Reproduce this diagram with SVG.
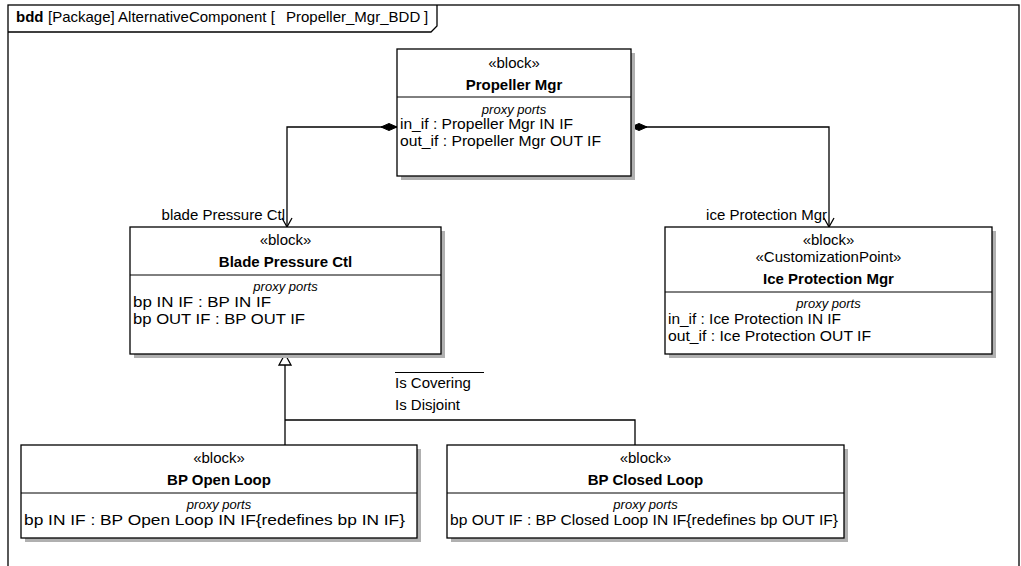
<svg xmlns="http://www.w3.org/2000/svg" width="1021" height="566" viewBox="0 0 1021 566">
  <style>
    text { font-family: "Liberation Sans", Arial, sans-serif; font-size: 15px; fill: #000; }
    .c { text-anchor: middle; }
    .b { font-weight: bold; }
    .pp { font-style: italic; font-size: 13px; text-anchor: middle; }
    .box { fill: #fff; stroke: #000; stroke-width: 1.3; }
    .shadow { fill: #b0b0b0; }
    .div { stroke: #000; stroke-width: 1; }
    .edge { fill: none; stroke: #000; stroke-width: 1.3; }
  </style>
  <defs>
    <marker id="diamond" markerUnits="userSpaceOnUse" markerWidth="18" markerHeight="8" refX="0" refY="0" orient="auto" overflow="visible">
      <path d="M0,0 L8,-3.5 L16,0 L8,3.5 Z" fill="#000" stroke="#000" stroke-width="1"/>
    </marker>
    <marker id="open" markerUnits="userSpaceOnUse" markerWidth="12" markerHeight="12" refX="0" refY="0" orient="auto" overflow="visible">
      <path d="M-9,-5 L0,0 L-9,5" fill="none" stroke="#000" stroke-width="1.3"/>
    </marker>
    <marker id="gen" markerUnits="userSpaceOnUse" markerWidth="14" markerHeight="14" refX="0" refY="0" orient="auto" overflow="visible">
      <path d="M0,0 L-11,-6 L-11,6 Z" fill="#fff" stroke="#000" stroke-width="1.3"/>
    </marker>
  </defs>

  <!-- diagram frame -->
  <g id="frame">
    <rect x="8" y="5" width="1011" height="580" fill="#fff" stroke="#000" stroke-width="1.3"/>
    <path d="M8,32 H431 L437,26 V5" fill="none" stroke="#000" stroke-width="1.3"/>
    <text x="16" y="22"><tspan class="b">bdd</tspan><tspan x="48">[Package] AlternativeComponent [</tspan><tspan x="286">Propeller_Mgr_BDD</tspan><tspan x="424">]</tspan></text>
  </g>

  <!-- connectors -->
  <g id="connectors">
    <path class="edge" d="M397,127 H287 V227" marker-start="url(#diamond)" marker-end="url(#open)"/>
    <path class="edge" d="M631,127 H829 V227" marker-start="url(#diamond)" marker-end="url(#open)"/>
    <path class="edge" d="M285,445 V354" marker-end="url(#gen)"/>
    <path class="edge" d="M285,420 H635 V445"/>
    <text x="285" y="220" text-anchor="end">blade Pressure Ctl</text>
    <text x="827" y="220" text-anchor="end">ice Protection Mgr</text>
    <line x1="395" y1="372.5" x2="484" y2="372.5" stroke="#000" stroke-width="1"/>
    <text x="395" y="388">Is Covering</text>
    <text x="395" y="410">Is Disjoint</text>
  </g>

  <!-- Propeller Mgr -->
  <g id="propeller-mgr">
    <rect class="shadow" x="401" y="53" width="234" height="127"/>
    <rect class="box" x="397" y="49" width="234" height="127"/>
    <line class="div" x1="397" y1="97" x2="631" y2="97"/>
    <text class="c" x="514" y="68">«block»</text>
    <text class="c b" x="514" y="90">Propeller Mgr</text>
    <text class="pp" x="514" y="114">proxy ports</text>
    <text x="400" y="129" textLength="173" lengthAdjust="spacingAndGlyphs">in_if : Propeller Mgr IN IF</text>
    <text x="400" y="146" textLength="201" lengthAdjust="spacingAndGlyphs">out_if : Propeller Mgr OUT IF</text>
  </g>

  <!-- Blade Pressure Ctl -->
  <g id="blade-pressure-ctl">
    <rect class="shadow" x="134" y="231" width="311" height="127"/>
    <rect class="box" x="130" y="227" width="311" height="127"/>
    <line class="div" x1="130" y1="275" x2="441" y2="275"/>
    <text class="c" x="285.5" y="245">«block»</text>
    <text class="c b" x="285.5" y="267">Blade Pressure Ctl</text>
    <text class="pp" x="285.5" y="291">proxy ports</text>
    <text x="133" y="307" textLength="138" lengthAdjust="spacingAndGlyphs">bp IN IF : BP IN IF</text>
    <text x="133" y="324" textLength="172" lengthAdjust="spacingAndGlyphs">bp OUT IF : BP OUT IF</text>
  </g>

  <!-- Ice Protection Mgr -->
  <g id="ice-protection-mgr">
    <rect class="shadow" x="669" y="231" width="327" height="127"/>
    <rect class="box" x="665" y="227" width="327" height="127"/>
    <line class="div" x1="665" y1="292" x2="992" y2="292"/>
    <text class="c" x="828.5" y="245">«block»</text>
    <text class="c" x="828.5" y="262">«CustomizationPoint»</text>
    <text class="c b" x="828.5" y="284">Ice Protection Mgr</text>
    <text class="pp" x="828.5" y="308">proxy ports</text>
    <text x="668" y="324" textLength="173" lengthAdjust="spacingAndGlyphs">in_if : Ice Protection IN IF</text>
    <text x="668" y="341" textLength="203" lengthAdjust="spacingAndGlyphs">out_if : Ice Protection OUT IF</text>
  </g>

  <!-- BP Open Loop -->
  <g id="bp-open-loop">
    <rect class="shadow" x="25" y="449" width="396" height="93"/>
    <rect class="box" x="21" y="445" width="396" height="93"/>
    <line class="div" x1="21" y1="493" x2="417" y2="493"/>
    <text class="c" x="219" y="463">«block»</text>
    <text class="c b" x="219" y="485">BP Open Loop</text>
    <text class="pp" x="219" y="509">proxy ports</text>
    <text x="24" y="525" textLength="381" lengthAdjust="spacingAndGlyphs">bp IN IF : BP Open Loop IN IF{redefines bp IN IF}</text>
  </g>

  <!-- BP Closed Loop -->
  <g id="bp-closed-loop">
    <rect class="shadow" x="451" y="449" width="397" height="93"/>
    <rect class="box" x="447" y="445" width="397" height="93"/>
    <line class="div" x1="447" y1="493" x2="844" y2="493"/>
    <text class="c" x="645.5" y="463">«block»</text>
    <text class="c b" x="645.5" y="485">BP Closed Loop</text>
    <text class="pp" x="645.5" y="509">proxy ports</text>
    <text x="450" y="525" textLength="388" lengthAdjust="spacingAndGlyphs">bp OUT IF : BP Closed Loop IN IF{redefines bp OUT IF}</text>
  </g>
</svg>
